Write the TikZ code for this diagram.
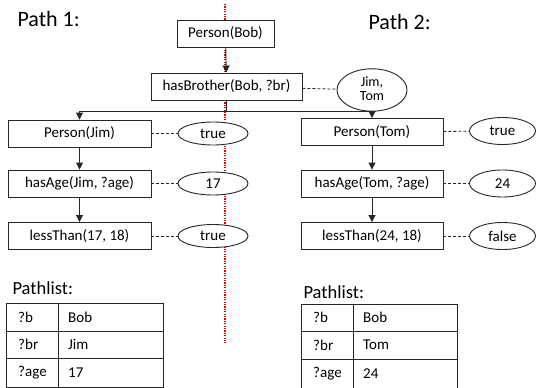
\documentclass[tikz,border=0pt]{standalone}
\usepackage{fontspec}
\setmainfont{Carlito}
\usetikzlibrary{arrows.meta,shapes.geometric}

\tikzset{
  pred/.style={draw=black!85, fill=white, line width=0.9pt, rectangle,
    minimum height=27pt, inner sep=0pt, font=\fontsize{15}{17}\selectfont},
  val/.style={draw=black!85, fill=white, line width=0.9pt, ellipse,
    minimum width=70pt, minimum height=23pt, inner sep=0pt,
    font=\fontsize{15}{17}\selectfont},
  flow/.style={line width=0.9pt, draw=black!85,
    -{Triangle[length=7pt,width=7pt]}},
  link/.style={line width=0.8pt, draw=black!85, dash pattern=on 3pt off 2pt},
  divider/.style={draw=red!90!black, line width=1.2pt,
    dash pattern=on 1.2pt off 1.2pt},
  heading/.style={font=\fontsize{22}{26}\selectfont, anchor=base west},
  listhead/.style={font=\fontsize{18.5}{22}\selectfont, anchor=base west},
  cell/.style={font=\fontsize{15}{17}\selectfont, anchor=west, inner sep=0pt},
  grid/.style={line width=0.9pt, draw=black!85},
}

\begin{document}
\begin{tikzpicture}[x=1pt,y=-1pt]
\useasboundingbox (0,0) rectangle (536,388);

% separating line between the two paths
\draw[divider] (225,4) -- (225,343);

% headings
\node[heading] (p1) at (14,27) {Path 1:};
\node[heading] (p2) at (365,30) {Path 2:};

% common root
\node[pred, minimum width=97pt] (pbob) at (225.5,33.5) {Person(Bob)};
\node[pred, minimum width=151pt] (hasbr) at (226.5,86.5) {hasBrother(Bob, ?br)};
\node[val, minimum height=40pt, font=\fontsize{14}{16}\selectfont] (jt) at (372,90)
  {\begin{tabular}{@{}c@{}}Jim,\\[-2pt]Tom\end{tabular}};

% path 1
\node[pred, minimum width=143pt] (pjim) at (79.5,133.5) {Person(Jim)};
\node[pred, minimum width=143pt] (ajim) at (79.5,183.5) {hasAge(Jim, ?age)};
\node[pred, minimum width=143pt] (ljim) at (79.5,236) {lessThan(17, 18)};
\node[val] (vjim1) at (213,133.5) {true};
\node[val] (vjim2) at (213,183.5) {17};
\node[val] (vjim3) at (213,236) {true};

% path 2
\node[pred, minimum width=142pt] (ptom) at (372,132) {Person(Tom)};
\node[pred, minimum width=142pt] (atom) at (372,183.5) {hasAge(Tom, ?age)};
\node[pred, minimum width=142pt] (ltom) at (372,236) {lessThan(24, 18)};
\node[val, minimum width=66pt, minimum height=27pt] (vtom1) at (502.5,131) {true};
\node[val, minimum width=66pt, minimum height=27pt] (vtom2) at (502.5,183.5) {24};
\node[val, minimum width=66pt, minimum height=27pt] (vtom3) at (502.5,236) {false};

% flow arrows
\coordinate (fork) at (hasbr.south |- 0,111);
\draw[flow] (pbob) -- (hasbr);
\draw[flow] (hasbr.south) -- (fork) -| (pjim.north);
\draw[flow] (fork) -| (ptom.north);
\draw[flow] (pjim) -- (ajim);
\draw[flow] (ajim) -- (ljim);
\draw[flow] (ptom) -- (atom);
\draw[flow] (atom) -- (ltom);

% result links
\draw[link] (hasbr) -- (jt);
\draw[link] (pjim) -- (vjim1);
\draw[link] (ajim) -- (vjim2);
\draw[link] (ljim) -- (vjim3);
\draw[link] (ptom) -- (vtom1);
\draw[link] (atom) -- (vtom2);
\draw[link] (ltom) -- (vtom3);

% pathlist of path 1
\node[listhead] (lh1) at (9,294) {Pathlist:};
\draw[grid] (6,303) rectangle (163,387);
\draw[grid] (6,331) -- (163,331) (6,358) -- (163,358) (58,303) -- (58,387);
\node[cell] (a1) at (18,317) {?b};
\node[cell] (a2) at (18,344.5) {?br};
\node[cell] (a3) at (18,372.5) {?age};
\node[cell] (b1) at (68,317) {Bob};
\node[cell] (b2) at (68,344.5) {Jim};
\node[cell] (b3) at (68,372.5) {17};

% pathlist of path 2
\node[listhead] (lh2) at (300,298) {Pathlist:};
\draw[grid] (301,392) -- (301,304) -- (457,304) -- (457,392);
\draw[grid] (301,331) -- (457,331) (301,359) -- (457,359) (353,304) -- (353,392);
\node[cell] (c1) at (313,317.5) {?b};
\node[cell] (c2) at (313,345) {?br};
\node[cell] (c3) at (313,373.5) {?age};
\node[cell] (d1) at (363,317.5) {Bob};
\node[cell] (d2) at (363,345) {Tom};
\node[cell] (d3) at (363,373.5) {24};
\end{tikzpicture}
\end{document}
